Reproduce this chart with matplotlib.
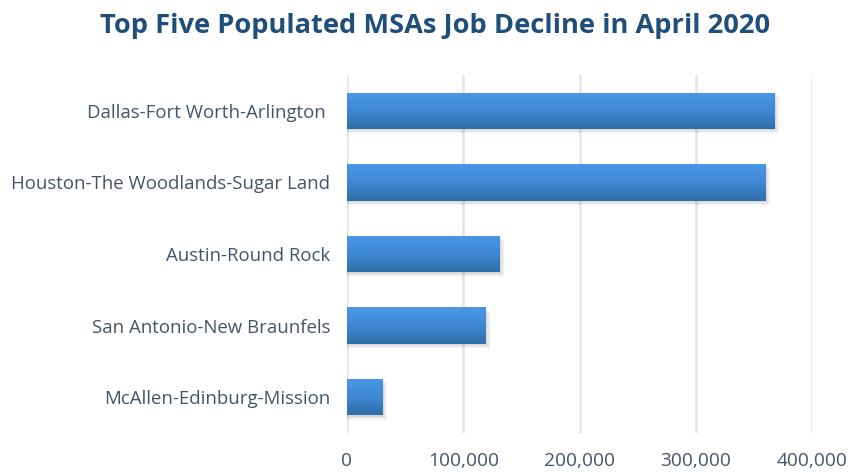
import matplotlib
matplotlib.use("Agg")
import matplotlib.pyplot as plt
import numpy as np
from matplotlib.colors import LinearSegmentedColormap
from matplotlib.ticker import FuncFormatter, MultipleLocator

categories = ["Dallas-Fort Worth-Arlington ", "Houston-The Woodlands-Sugar Land",
              "Austin-Round Rock", "San Antonio-New Braunfels", "McAllen-Edinburg-Mission"]
values = [367800, 360000, 131500, 119500, 30500]
title = "Top Five Populated MSAs Job Decline in April 2020"

fig = plt.figure(figsize=(8.48, 4.72), dpi=100)
ax = fig.add_axes([347/848, 1-433/472, (812-347)/848, (433-75)/472])

ypos = np.arange(len(categories))
bars = ax.barh(ypos, values, height=0.51, color="#3F86D0", zorder=3)

# soft shadows (layered)
for b in bars:
    x0, y0 = b.get_x(), b.get_y()
    w, h = b.get_width(), b.get_height()
    for k, dy in enumerate([0.02, 0.04, 0.06]):
        ax.barh(y0 + h/2 + dy, w + 1200 * (k + 1), height=h, left=x0,
                color="#000000", alpha=0.05, zorder=2, linewidth=0)

cmap = LinearSegmentedColormap.from_list("g", ["#4A98E6", "#3F88D4", "#2F6DA8"])
grad = np.linspace(0, 1, 256).reshape(-1, 1)
for b in bars:
    x0, y0 = b.get_x(), b.get_y()
    w, h = b.get_width(), b.get_height()
    im = ax.imshow(grad, cmap=cmap, aspect="auto", extent=(x0, x0 + w, y0 + h, y0),
                   origin="upper", zorder=4, interpolation="bilinear")
    im.set_clip_path(b)

ax.set_xlim(0, 400000)
ax.set_ylim(len(categories) - 0.5, -0.5)
ax.xaxis.set_major_locator(MultipleLocator(100000))
ax.xaxis.set_major_formatter(FuncFormatter(lambda v, p: f"{int(v):,}"))
ax.grid(axis="x", color="#E1E5EA", linewidth=1.8, zorder=0)
ax.set_axisbelow(True)
for s in ax.spines.values():
    s.set_visible(False)
ax.set_yticks(ypos)
ax.set_yticklabels(categories)
ax.tick_params(axis="both", length=0, colors="#44546A")
ax.tick_params(axis="y", pad=12, labelsize=13.4)
ax.tick_params(axis="x", pad=14, labelsize=13.8)
for t in ax.get_xticklabels() + ax.get_yticklabels():
    t.set_family("Open Sans")

fig.text(0.513, 0.945, title, ha="center", va="center", fontsize=19.6,
         fontweight="bold", color="#1F4E79", family="Open Sans")

fig.savefig("out.png", dpi=100)
